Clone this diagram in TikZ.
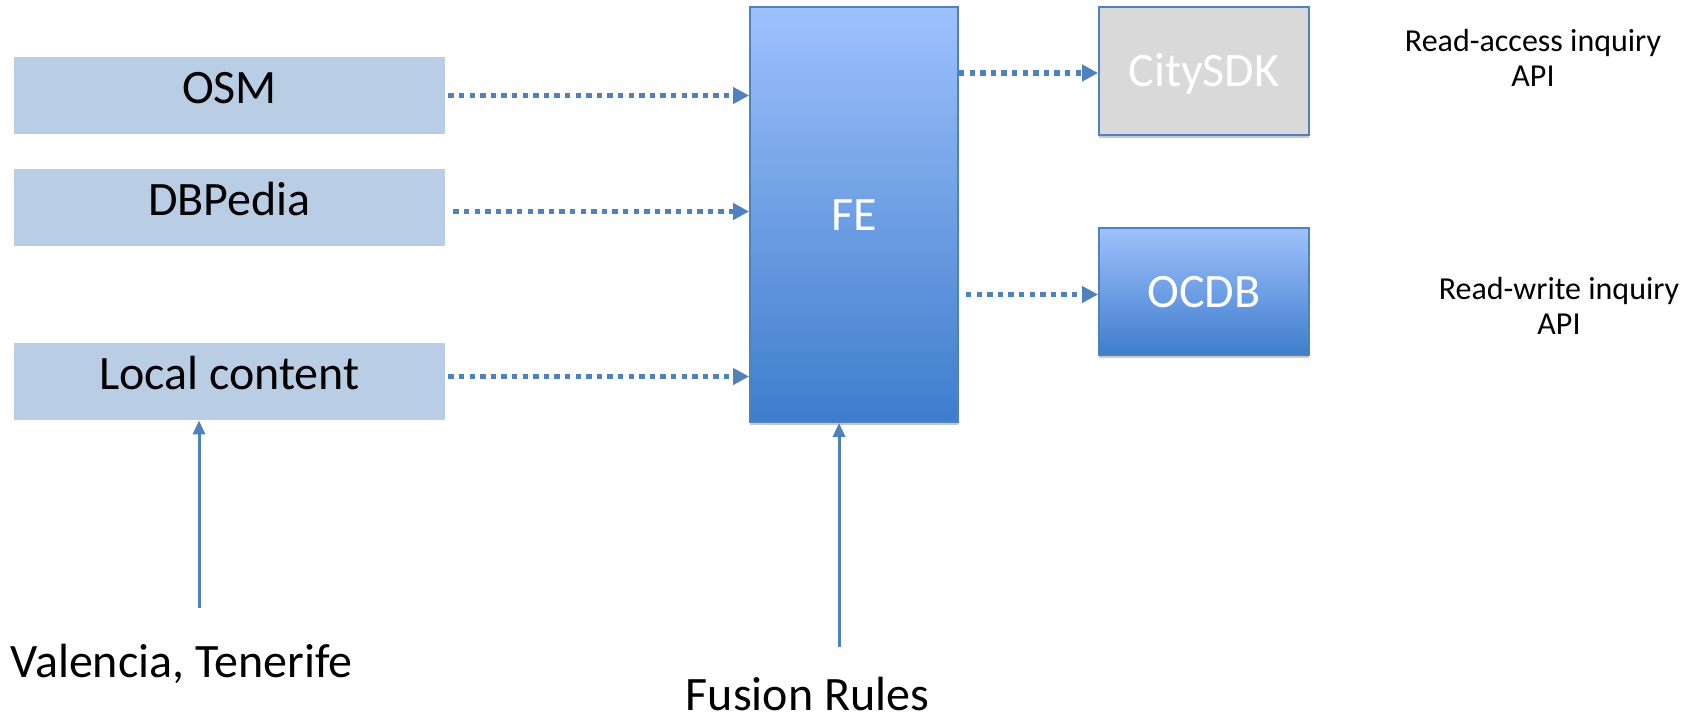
\documentclass[tikz,border=0pt]{standalone}
\usepackage{fontspec}
\setmainfont{Carlito}
\usetikzlibrary{positioning}
\usetikzlibrary{arrows.meta}
\usetikzlibrary{shapes,shadows}
\definecolor{srcblue}{HTML}{B9CDE5}
\definecolor{linkblue}{HTML}{4F81BD}
\definecolor{topblue}{HTML}{9EC1FC}
\definecolor{botblue}{HTML}{3E7DCC}
\definecolor{sdkgray}{HTML}{D9D9D9}
\tikzset{
        boxnode/.style={align=center,inner sep=0pt,font=\fontsize{24pt}{29pt}\selectfont},
        % Source nodes
        node_source/.style={boxnode, rectangle, black, fill=srcblue, minimum width=215.5pt, minimum height=38.5pt, text height=15.5pt, text depth=7.5pt},
        % Fusion engine and target nodes
        node_engine/.style={boxnode, rectangle, white, draw=linkblue, line width=0.9pt, top color=topblue, bottom color=botblue, text height=15.5pt, text depth=0pt,
          drop shadow={shadow xshift=0pt, shadow yshift=-1.5pt, opacity=0.3, fill=black!70}},
        node_gray/.style={node_engine, top color=sdkgray, bottom color=sdkgray},
        % Plain text nodes
        node_label/.style={align=center, inner sep=0pt, black},
        % Connectors
        arrow_dotted/.style={-{Triangle[length=8pt,width=8pt]}, linkblue, line width=2.7pt, dash pattern=on 2.7pt off 2.6pt},
        arrow_solid/.style={-{Triangle[length=7pt,width=6pt]}, linkblue, line width=1.5pt}
}
\begin{document}
\begin{tikzpicture}[x=0.5pt, y=-0.5pt]
    \useasboundingbox (0,0) rectangle (1696,725);
    % sources
    \node[node_source] (osm) at (229.5,95.5) {OSM};
    \node[node_source] (dbp) at (229.5,207.5) {DBPedia};
    \node[node_source] (loc) at (229.5,381.5) {Local content};
    % fusion engine and targets
    \node[node_engine, minimum width=104pt, minimum height=207.5pt] (fe) at (854,214.5) {FE};
    \node[node_gray, minimum width=105pt, minimum height=64pt] (city) at (1204,71) {CitySDK};
    \node[node_engine, minimum width=105pt, minimum height=63.5pt] (ocdb) at (1204,291.5) {OCDB};
    % texts
    \node[node_label, font=\fontsize{24pt}{29pt}\selectfont] (vt) at (181.5,664) {Valencia, Tenerife};
    \node[node_label, font=\fontsize{24pt}{29pt}\selectfont, text depth=0pt] (fr) at (807.5,694) {Fusion Rules};
    \node[node_label, font=\fontsize{16pt}{17.5pt}\selectfont] (raapi) at (1533,58) {Read-access inquiry\\API};
    \node[node_label, font=\fontsize{16pt}{17.5pt}\selectfont] (rwapi) at (1559,306) {Read-write inquiry\\API};
    \coordinate (vtsrc) at (199,608);
    \coordinate (frsrc) at (839,647);
    % connectors
    \draw[arrow_dotted, shorten <=1.5pt] (osm.east) -- (osm.east -| fe.west);
    \draw[arrow_dotted, shorten <=4pt] ([yshift=-2pt]dbp.east) -- ([yshift=-2pt]dbp.east -| fe.west);
    \draw[arrow_dotted, shorten <=1.5pt] ([yshift=2.5pt]loc.east) -- ([yshift=2.5pt]loc.east -| fe.west);
    \draw[arrow_dotted] ([yshift=-1pt]city.west -| fe.east) -- ([yshift=-1pt]city.west);
    \draw[arrow_dotted, shorten <=3.5pt] ([yshift=-1.5pt]ocdb.west -| fe.east) -- ([yshift=-1.5pt]ocdb.west);
    \draw[arrow_solid] (vtsrc) -- (vtsrc |- loc.south);
    \draw[arrow_solid] (frsrc) -- (frsrc |- fe.south);
\end{tikzpicture}
\end{document}
